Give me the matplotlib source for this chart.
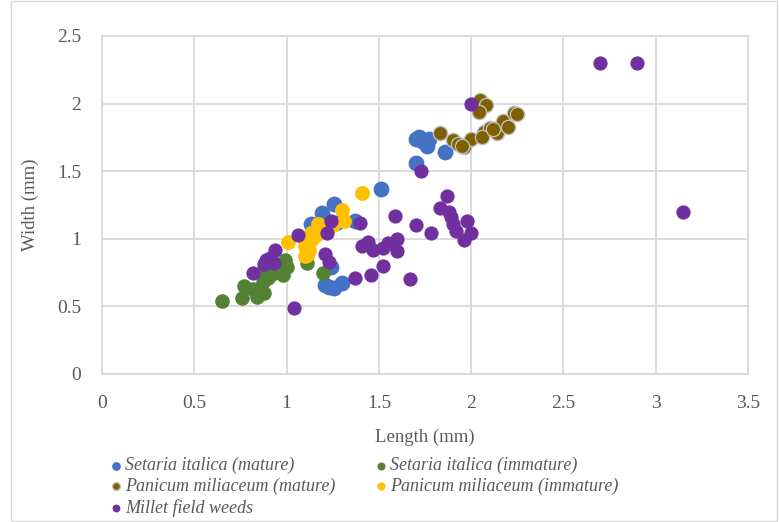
import matplotlib.pyplot as plt
from matplotlib.patches import Rectangle

# Setaria italica (mature)
si_mat_x = [1.70, 1.735, 1.77, 1.76, 1.72, 1.70, 1.86, 1.51, 1.255, 1.19, 1.13, 1.27, 1.37, 1.24, 1.21, 1.255, 1.30, 1.23, 1.15]
si_mat_y = [1.74, 1.72, 1.74, 1.69, 1.75, 1.56, 1.64, 1.37, 1.26, 1.19, 1.11, 1.12, 1.13, 0.79, 0.66, 0.635, 0.67, 0.64, 1.10]

# Setaria italica (immature)
si_imm_x = [0.65, 0.76, 0.77, 0.84, 0.88, 0.82, 0.87, 0.90, 0.92, 0.98, 0.99, 1.00, 0.95, 1.11, 1.20, 0.86, 0.93]
si_imm_y = [0.54, 0.56, 0.65, 0.57, 0.60, 0.63, 0.68, 0.71, 0.74, 0.73, 0.84, 0.79, 0.80, 0.82, 0.75, 0.75, 0.77]

# Panicum miliaceum (mature)
pm_mat_x = [1.83, 1.90, 1.93, 1.96, 2.00, 2.05, 2.08, 2.04, 2.07, 2.10, 2.14, 2.17, 2.20, 2.23, 2.25, 2.06, 1.95, 2.12]
pm_mat_y = [1.78, 1.73, 1.70, 1.68, 1.74, 2.03, 1.99, 1.94, 1.79, 1.82, 1.78, 1.87, 1.83, 1.93, 1.92, 1.75, 1.69, 1.81]

# Panicum miliaceum (immature)
pm_imm_x = [1.41, 1.30, 1.31, 1.17, 1.13, 1.10, 1.10, 1.01, 1.11, 1.16, 1.20, 1.14, 1.25, 1.12]
pm_imm_y = [1.34, 1.21, 1.13, 1.11, 1.04, 0.95, 0.87, 0.98, 0.88, 1.03, 1.08, 1.00, 1.10, 0.92]

# Millet field weeds
weeds_x = [2.70, 2.90, 3.15, 2.00, 1.73, 1.87, 1.83, 1.88, 1.98, 1.90, 1.92, 2.00, 1.96, 1.59, 1.70, 1.78,
           1.67, 1.60, 1.60, 1.52, 1.40, 1.24, 1.06, 1.22, 1.44, 1.41, 1.47, 1.52, 1.55, 1.21, 1.23, 1.46,
           1.37, 0.82, 1.04, 0.94, 0.89, 0.93, 0.88, 0.91, 1.89]
weeds_y = [2.30, 2.30, 1.20, 2.00, 1.50, 1.32, 1.23, 1.20, 1.13, 1.11, 1.06, 1.04, 0.99, 1.17, 1.10, 1.04,
           0.70, 0.91, 1.00, 0.80, 1.12, 1.13, 1.03, 1.04, 0.98, 0.95, 0.92, 0.93, 0.97, 0.89, 0.83, 0.73,
           0.71, 0.75, 0.49, 0.92, 0.84, 0.82, 0.81, 0.86, 1.16]

x_ticks = [0, 0.5, 1, 1.5, 2, 2.5, 3, 3.5]
x_labels = ['0', '0.5', '1', '1.5', '2', '2.5', '3', '3.5']
y_ticks = [0, 0.5, 1, 1.5, 2, 2.5]
y_labels = ['0', '0.5', '1', '1.5', '2', '2.5']

plt.rcParams['font.family'] = ['Liberation Serif', 'DejaVu Serif']
grey = '#595959'
gridc = '#D9D9D9'

fig = plt.figure(figsize=(7.79, 5.22), dpi=100)
ax = fig.add_axes([102/779, 1-374/522, 646/779, 338/522])

# chart area border
fig.patches.append(Rectangle((11/779, 1/522), 766/779, 520/522, transform=fig.transFigure,
                             fill=False, edgecolor=gridc, linewidth=1))

h1 = ax.scatter(si_mat_x, si_mat_y, s=130, color='#4472C4', linewidths=0, zorder=3,
                label='Setaria italica (mature)')
h2 = ax.scatter(si_imm_x, si_imm_y, s=110, color='#548235', linewidths=0, zorder=3,
                label='Setaria italica (immature)')
h3 = ax.scatter(pm_mat_x, pm_mat_y, s=105, color='#7F6000', edgecolors='#BFBFBF', linewidths=1.0, zorder=3,
                label='Panicum miliaceum (mature)')
h4 = ax.scatter(pm_imm_x, pm_imm_y, s=115, color='#FFC000', linewidths=0, zorder=3,
                label='Panicum miliaceum (immature)')
h5 = ax.scatter(weeds_x, weeds_y, s=105, color='#7030A0', linewidths=0, zorder=3,
                label='Millet field weeds')

ax.set_xlim(0, 3.5)
ax.set_ylim(0, 2.5)
ax.set_xticks(x_ticks)
ax.set_xticklabels(x_labels)
ax.set_yticks(y_ticks)
ax.set_yticklabels(y_labels)
ax.grid(True, color=gridc, linewidth=1.3, zorder=0)
ax.set_axisbelow(True)
for sp in ax.spines.values():
    sp.set_color(gridc)
    sp.set_linewidth(1.3)
ax.tick_params(length=0, colors=grey, labelsize=14, pad=15)
ax.set_xlabel('Length (mm)', fontsize=13.5, color=grey, labelpad=12)
ax.set_ylabel('Width (mm)', fontsize=13.5, color=grey, labelpad=13)

leg = fig.legend(handles=[h1, h3, h5, h2, h4], loc='upper left', bbox_to_anchor=(102/779, 1-448/522),
                 ncol=2, frameon=False, markerscale=0.55, handlelength=0.6,
                 handletextpad=0.2, columnspacing=2.2, labelspacing=0.2, borderpad=0,
                 prop={'style': 'italic', 'size': 13})
for t in leg.get_texts():
    t.set_color(grey)

fig.savefig('out.png', dpi=100)
